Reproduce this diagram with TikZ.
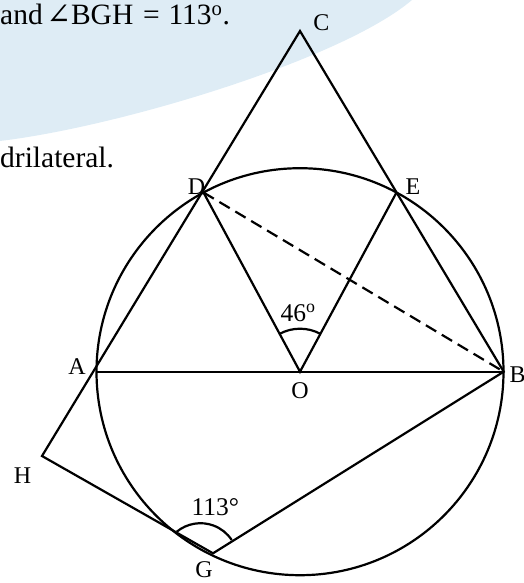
\documentclass[tikz,border=0pt]{standalone}
\usepackage{fontspec}
\setmainfont{Liberation Serif}
\newfontfamily\symfont{DejaVu Serif}
\definecolor{bandblue}{RGB}{222,236,245}
\begin{document}
\begin{tikzpicture}[x=1pt,y=-1pt,
  geo/.style={line width=2.2pt, line join=miter},
  ptlabel/.style={font=\fontsize{24}{26}\selectfont, inner sep=0pt, anchor=base},
  anglabel/.style={font=\fontsize{25.5}{28}\selectfont, inner sep=0pt, anchor=base},
  bodytext/.style={font=\fontsize{29.5}{32}\selectfont, inner sep=0pt, anchor=base west},
  dashline/.style={geo, dash pattern=on 12pt off 6.5pt}]
\useasboundingbox (0,0) rectangle (524,583);
\fill[bandblue] (0,0) -- (412,0) .. controls (342,59.5) and (120,126.6) .. (0,141) -- cycle;
\node[bodytext] (t1) at (0,25) {and\hspace{0.12em}{\symfont ∠}BGH\hspace{0.08em} = \hspace{0.05em}113\textsuperscript{o}.};
\node[bodytext] (t2) at (0,167) {drilateral.};

\coordinate (O) at (300,371.7);
\coordinate (A) at (96.3,371.7);
\coordinate (B) at (503.7,371.7);
\coordinate (C) at (300,31);
\coordinate (D) at (203.5,192.5);
\coordinate (E) at (396.5,192.5);
\coordinate (H) at (42,456);
\coordinate (G) at (213,553.3);
\coordinate (Garc) at (200.5,560.6);

\draw[geo] (O) circle[radius=203.5];
\draw[geo] (H) -- (C) -- (B) -- (G) -- cycle;
\draw[geo] (A) -- (B);
\draw[geo] (D) -- (O) -- (E);
\draw[dashline] (D) -- (B);
\draw[geo] (O) ++(-118:43) arc[start angle=-118, end angle=-62, radius=43];
\draw[geo] (Garc) ++(-129.5:37.4) arc[start angle=-129.5, end angle=-33.4, radius=37.4];

\node[ptlabel] (lC) at (321.3,30.7) {C};
\node[ptlabel] (lD) at (196.5,194.3) {D};
\node[ptlabel] (lE) at (413,194.3) {E};
\node[ptlabel] (lA) at (77,374.3) {A};
\node[ptlabel] (lO) at (300,398) {O};
\node[ptlabel] (lB) at (517.5,382.5) {B};
\node[ptlabel] (lH) at (22.5,483.3) {H};
\node[ptlabel] (lG) at (204,577.5) {G};
\node[anglabel] (a46) at (298,321.7) {46\textsuperscript{o}};
\node[anglabel] (a113) at (215.3,515) {113°};
\end{tikzpicture}
\end{document}
